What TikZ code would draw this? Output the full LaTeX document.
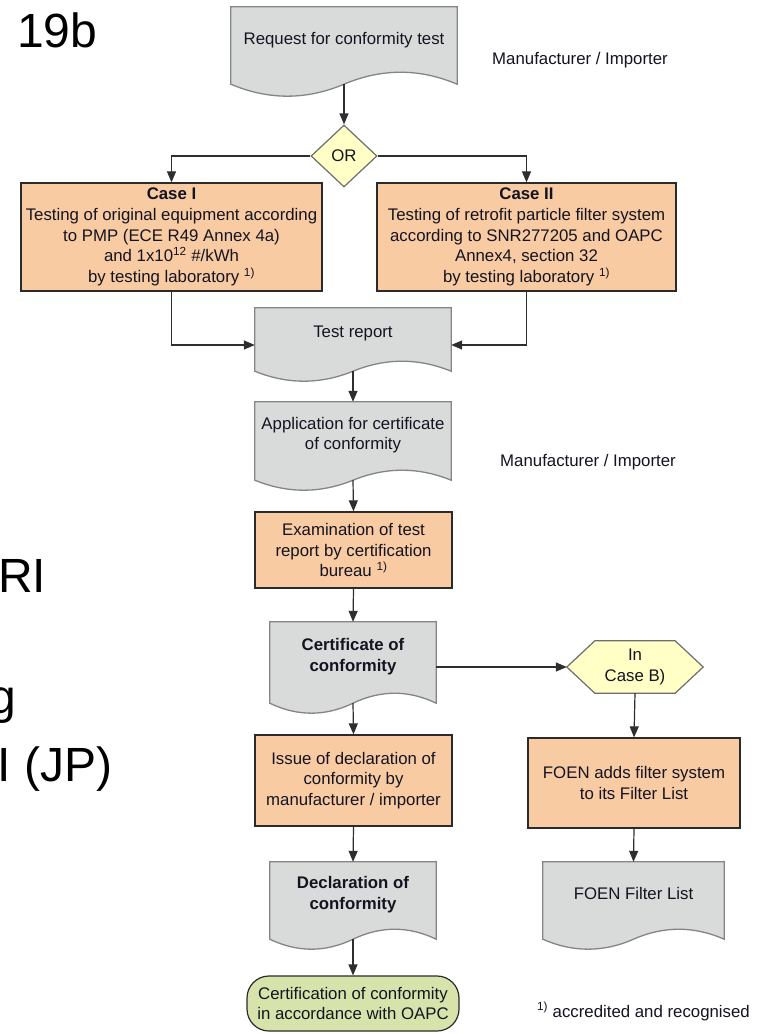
\documentclass[tikz,border=0pt]{standalone}
\usepackage{fontspec}
\setmainfont{Liberation Sans}
\usetikzlibrary{arrows.meta,calc,shapes.geometric}
\pgfdeclarelayer{background}
\pgfsetlayers{background,main}
\definecolor{docfill}{HTML}{D9DBDB}
\definecolor{docline}{HTML}{858585}
\definecolor{peach}{HTML}{F8CBA3}
\definecolor{boxline}{HTML}{2B2B2B}
\definecolor{ylw}{HTML}{FFFFC6}
\definecolor{ylwline}{HTML}{6E6E6E}
\definecolor{grn}{HTML}{D6E3AB}
\definecolor{txt}{HTML}{141420}
\definecolor{arrline}{HTML}{2E2E2E}
\tikzset{
  every node/.style={font=\fontsize{16.8}{20.7}\selectfont, text=txt},
  docnode/.style={rectangle, inner sep=0pt, align=center, text depth=15pt},
  docshape/.style={fill=docfill, draw=docline, line width=1.3pt},
  peachbox/.style={rectangle, fill=peach, draw=boxline, line width=1.3pt, inner sep=1pt, align=center},
  diam/.style={diamond, fill=ylw, draw=ylwline, line width=1.2pt, inner sep=0pt, minimum width=66pt, minimum height=62pt},
  hexnode/.style={rectangle, inner sep=0pt, align=center},
  hexshape/.style={fill=ylw, draw=ylwline, line width=1.2pt},
  termnode/.style={rectangle, fill=grn, draw=boxline, line width=1.2pt, inner sep=0pt, align=center},
  plain/.style={inner sep=0pt},
  bigtext/.style={font=\fontsize{48}{52}\selectfont, text=black, inner sep=0pt, anchor=base west},
  arr/.style={-{Triangle[length=11pt,width=9pt]}, line width=1.2pt, draw=arrline}
}
% wavy-bottom document shape drawn behind a named node
\newcommand\docwave[2]{%
  \begin{pgfonlayer}{background}
  \path (#1.south west) coordinate (dwA) (#1.south east) coordinate (dwB) (#1.south) coordinate (dwM);
  \draw[docshape] (#1.south west) -- (#1.north west) -- (#1.north east) -- (#1.south east)
    .. controls ($(dwB)!0.333!(dwM)+(0,-1.33*#2)$) and ($(dwM)!0.333!(dwB)+(0,-1.33*#2)$) .. (dwM)
    .. controls ($(dwM)!0.333!(dwA)+(0,1.33*#2)$) and ($(dwA)!0.333!(dwM)+(0,1.33*#2)$) .. (dwA) -- cycle;
  \end{pgfonlayer}}
% hexagon drawn behind a named node
\newcommand\hexdraw[2]{%
  \begin{pgfonlayer}{background}
  \draw[hexshape] ([xshift=#2pt]#1.north west) -- ([xshift=-#2pt]#1.north east) -- (#1.east)
    -- ([xshift=-#2pt]#1.south east) -- ([xshift=#2pt]#1.south west) -- (#1.west) -- cycle;
  \end{pgfonlayer}}
\begin{document}
\begin{tikzpicture}[x=1pt,y=-1pt]
\useasboundingbox (0,0) rectangle (762,1034);
\clip (0,0) rectangle (762,1034);
\begin{pgfonlayer}{background}
\fill[white] (0,0) rectangle (762,1034);
\end{pgfonlayer}

% background slide remnants
\node[bigtext] (t19) at (17,47) {19b};
\node[bigtext] (tRI) at (-2,592) {RI};
\node[bigtext] (tg) at (-11,713) {g};
\node[bigtext] (tJP) at (-2.5,781) {I (JP)};

% nodes
\node[docnode, minimum width=226pt, minimum height=77pt] (req) at (344,45.5) {Request for conformity test};
\docwave{req}{12}
\node[plain] (mi1) at (580,60) {Manufacturer / Importer};

\node[diam] (or) at (344,156) {OR};

\node[peachbox, minimum width=301pt, minimum height=108pt] (caseI) at (171.5,237)
  {\textbf{Case I}\\Testing of original equipment according\\to PMP (ECE R49 Annex 4a)\\and 1x10\textsuperscript{12} \#/kWh\\by testing laboratory \textsuperscript{1)}};
\node[peachbox, minimum width=299pt, minimum height=108pt] (caseII) at (526.5,237)
  {\textbf{Case II}\\Testing of retrofit particle filter system\\according to SNR277205 and OAPC\\Annex4, section 32\\by testing laboratory \textsuperscript{1)}};

\node[docnode, minimum width=196pt, minimum height=63pt] (tr) at (353,339.5) {Test report};
\docwave{tr}{10}

\node[docnode, minimum width=196pt, minimum height=78pt] (app) at (353,441) {Application for certificate\\of conformity};
\docwave{app}{10}
\node[plain] (mi2) at (588,462) {Manufacturer / Importer};

\node[peachbox, minimum width=197pt, minimum height=76pt] (exam) at (353.5,550) {Examination of test\\report by certification\\bureau \textsuperscript{1)}};

\node[docnode, minimum width=166pt, minimum height=81pt] (cert) at (353,662.5) {\textbf{Certificate of}\\\textbf{conformity}};
\docwave{cert}{10}

\node[hexnode, minimum width=136pt, minimum height=52pt] (hex) at (635,667) {In\\Case B)};
\hexdraw{hex}{28}

\node[peachbox, minimum width=197pt, minimum height=91pt] (issue) at (353.5,780.5) {Issue of declaration of\\conformity by\\manufacturer / importer};
\node[peachbox, minimum width=212pt, minimum height=90pt] (foen) at (634,783) {FOEN adds filter system\\to its Filter List};

\node[docnode, minimum width=166pt, minimum height=77pt] (decl) at (353,900.5) {\textbf{Declaration of}\\\textbf{conformity}};
\docwave{decl}{10}
\node[docnode, minimum width=181pt, minimum height=77pt] (flist) at (633.5,900.5) {FOEN Filter List};
\docwave{flist}{10}

\node[termnode, minimum width=212pt, minimum height=55pt, rounded corners=22pt] (term) at (353,1003.5) {Certification of conformity\\in accordance with OAPC};

\node[plain, anchor=base east] (fn) at (750,1017) {\textsuperscript{1)} accredited and recognised};

% connectors
\draw[arr] (req.south) -- (or.north);
\draw[arr] (or.west) -| (caseI.north);
\draw[arr] (or.east) -| (caseII.north);
\draw[arr] (caseI.south) |- ([yshift=-5.5pt]tr.west);
\draw[arr] (caseII.south) |- ([yshift=-5.5pt]tr.east);
\draw[arr] (tr.south) -- (app.north);
\draw[arr] (app.south) -- (exam.north);
\draw[arr] (exam.south) -- (cert.north);
\draw[arr] (hex.west -| cert.east) -- (hex.west);
\draw[arr] (cert.south) -- (issue.north);
\draw[arr] (hex.south) -- (foen.north);
\draw[arr] (issue.south) -- (decl.north);
\draw[arr] (foen.south) -- (flist.north);
\draw[arr] (decl.south) -- (term.north);
\end{tikzpicture}
\end{document}
